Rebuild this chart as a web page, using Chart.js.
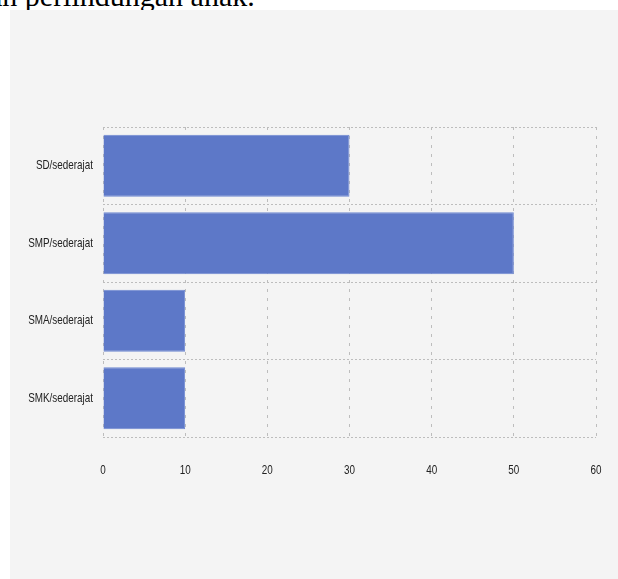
<!DOCTYPE html>
<html>
<head>
<meta charset="utf-8">
<script src="https://cdn.jsdelivr.net/npm/chart.js@4.4.0/dist/chart.umd.min.js"></script>
<style>
  body { margin: 0; background: #fff; width: 618px; height: 579px; overflow: hidden; position: relative; }
  #caption {
    position: absolute; left: -26px; top: -19px; white-space: nowrap;
    font-family: "Liberation Serif", serif; font-size: 30px; color: #000; line-height: 30px;
  }
  #panel { position: absolute; left: 10px; top: 10px; width: 608px; height: 569px; background: #f4f4f4; }
</style>
</head>
<body>
<div id="caption">dan perlindungan anak.</div>
<div id="panel"><canvas id="barChart" width="608" height="569"></canvas></div>
<script>
const categories = ["SD/sederajat", "SMP/sederajat", "SMA/sederajat", "SMK/sederajat"];
const values = [30, 50, 10, 10];
const xTicks = [0, 10, 20, 30, 40, 50, 60];

// the labels in the picture are squeezed sideways, so draw them narrowed
const narrowLabels = {
  id: "narrowLabels",
  afterDraw: function (chart) {
    const ctx = chart.ctx;
    const area = chart.chartArea;
    const xs = chart.scales.x;
    const ys = chart.scales.y;
    ctx.save();
    ctx.font = "13px 'Liberation Sans', sans-serif";
    ctx.fillStyle = "#222";
    ctx.textBaseline = "middle";
    ys.ticks.forEach(function (t, i) {
      ctx.save();
      ctx.translate(area.left - 10, ys.getPixelForTick(i));
      ctx.scale(0.76, 1);
      ctx.textAlign = "right";
      ctx.fillText(categories[i], 0, 0);
      ctx.restore();
    });
    xTicks.forEach(function (v) {
      ctx.save();
      ctx.translate(xs.getPixelForValue(v), area.bottom + 33);
      ctx.scale(0.76, 1);
      ctx.textAlign = "center";
      ctx.fillText(String(v), 0, 0);
      ctx.restore();
    });
    ctx.restore();
  },
};

document.addEventListener("DOMContentLoaded", function () {
  const ctx = document.getElementById("barChart").getContext("2d");
  new Chart(ctx, {
    type: "bar",
    data: {
      labels: categories,
      datasets: [
        {
          data: values,
          backgroundColor: "#5d78c8",
          borderColor: "#6f88d2",
          borderWidth: 1,
          barPercentage: 0.8,
          categoryPercentage: 1,
        },
      ],
    },
    options: {
      indexAxis: "y",
      responsive: false,
      animation: false,
      layout: { padding: { left: 0, right: 22, top: 117, bottom: 0 } },
      plugins: {
        legend: { display: false },
        tooltip: { enabled: false },
      },
      scales: {
        x: {
          min: 0,
          max: 60,
          afterBuildTicks: function (scale) {
            scale.ticks = xTicks.map((v) => ({ value: v }));
          },
          afterFit: function (scale) {
            scale.height = 142;
          },
          grid: { color: "#bdbdbd", lineWidth: 1, drawTicks: false },
          border: { display: false, dash: [3, 6] },
          ticks: { display: false },
        },
        y: {
          afterFit: function (scale) {
            scale.width = 93;
          },
          grid: {
            offset: true,
            color: "#bdbdbd",
            lineWidth: 1,
            drawTicks: false,
          },
          border: { display: false, dash: [2, 2] },
          ticks: { display: false },
        },
      },
    },
    plugins: [narrowLabels],
  });
});
</script>
</body>
</html>
